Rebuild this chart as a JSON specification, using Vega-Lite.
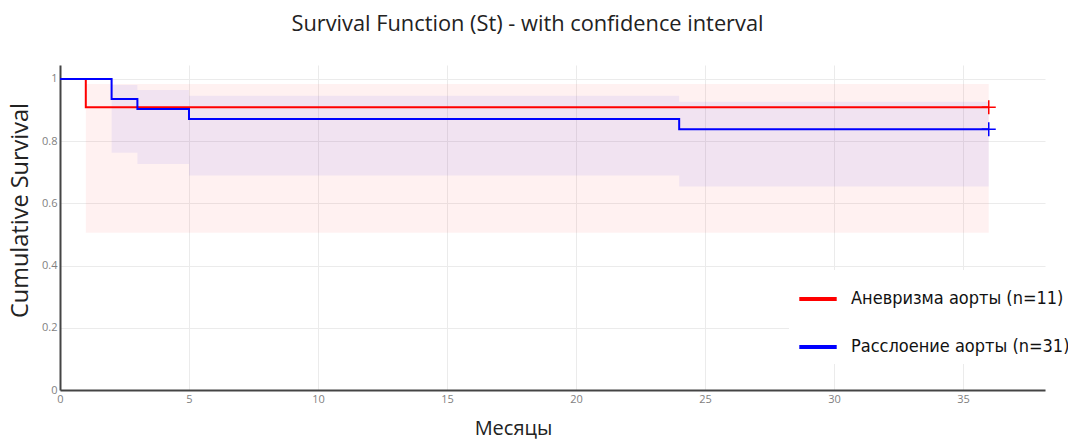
{
  "$schema": "https://vega.github.io/schema/vega-lite/v6.json",
  "autosize": {"type": "none"},
  "width": 985,
  "height": 325,
  "padding": {"left": 60, "top": 65, "right": 23, "bottom": 49},
  "background": "white",
  "title": {
    "text": "Survival Function (St) - with confidence interval",
    "font": "Open Sans",
    "fontSize": 21.8,
    "fontWeight": "normal",
    "color": "#222222",
    "anchor": "middle",
    "frame": "group",
    "dx": -25,
    "offset": 29
  },
  "config": {
    "view": {"stroke": null},
    "axis": {
      "labelFont": "Open Sans",
      "labelFontSize": 11,
      "labelColor": "#7f7f7f",
      "titleFont": "Open Sans",
      "titleFontWeight": "normal",
      "titleColor": "#222222",
      "gridColor": "#ebebeb",
      "gridWidth": 1,
      "ticks": false,
      "domainColor": "#444444",
      "domainWidth": 2
    }
  },
  "datasets": {
    "km": [
      {"series": "Аневризма аорты (n=11)", "month": 0, "surv": 1},
      {"series": "Аневризма аорты (n=11)", "month": 1, "surv": 0.9091},
      {"series": "Аневризма аорты (n=11)", "month": 36, "surv": 0.9091},
      {"series": "Расслоение аорты (n=31)", "month": 0, "surv": 1},
      {"series": "Расслоение аорты (n=31)", "month": 2, "surv": 0.9355},
      {"series": "Расслоение аорты (n=31)", "month": 3, "surv": 0.9032},
      {"series": "Расслоение аорты (n=31)", "month": 5, "surv": 0.871},
      {"series": "Расслоение аорты (n=31)", "month": 24, "surv": 0.8387},
      {"series": "Расслоение аорты (n=31)", "month": 36, "surv": 0.8387}
    ],
    "ci": [
      {"series": "Аневризма аорты (n=11)", "month": 1, "lower": 0.506, "upper": 0.984},
      {"series": "Аневризма аорты (n=11)", "month": 36, "lower": 0.506, "upper": 0.984},
      {"series": "Расслоение аорты (n=31)", "month": 2, "lower": 0.763, "upper": 0.981},
      {"series": "Расслоение аорты (n=31)", "month": 3, "lower": 0.727, "upper": 0.965},
      {"series": "Расслоение аорты (n=31)", "month": 5, "lower": 0.69, "upper": 0.946},
      {"series": "Расслоение аорты (n=31)", "month": 24, "lower": 0.654, "upper": 0.927},
      {"series": "Расслоение аорты (n=31)", "month": 36, "lower": 0.654, "upper": 0.927}
    ],
    "censored": [
      {"series": "Аневризма аорты (n=11)", "month": 36, "surv": 0.9091},
      {"series": "Расслоение аорты (n=31)", "month": 36, "surv": 0.8387}
    ]
  },
  "encoding": {
    "x": {
      "field": "month",
      "type": "quantitative",
      "scale": {"domain": [0, 38.18], "nice": false, "zero": false},
      "axis": {
        "title": "Месяцы",
        "titleFontSize": 20,
        "titleX": 453,
        "titleY": 38,
        "titleBaseline": "middle",
        "titleAlign": "center",
        "values": [0, 5, 10, 15, 20, 25, 30, 35],
        "labelPadding": 3,
        "labelFlush": false
      }
    },
    "y": {
      "type": "quantitative",
      "scale": {"domain": [0, 1.045], "nice": false},
      "axis": {
        "title": "Cumulative Survival",
        "titleFontSize": 23.5,
        "titleX": -40,
        "titleY": 145,
        "titleAngle": -90,
        "titleBaseline": "middle",
        "titleAlign": "center",
        "values": [0, 0.2, 0.4, 0.6, 0.8, 1],
        "format": "~g",
        "labelPadding": 3
      }
    }
  },
  "layer": [
    {
      "data": {"name": "ci"},
      "mark": {"type": "area", "interpolate": "step-after", "opacity": 0.055},
      "encoding": {
        "y": {"field": "upper"},
        "y2": {"field": "lower"},
        "color": {
          "field": "series",
          "type": "nominal",
          "scale": {
            "domain": ["Аневризма аорты (n=11)", "Расслоение аорты (n=31)"],
            "range": ["#ff0000", "#0000ff"]
          },
          "legend": {
            "title": null,
            "orient": "none",
            "legendX": 729,
            "legendY": 205,
            "fillColor": "white",
            "padding": 8,
            "symbolType": "stroke",
            "symbolSize": 1400,
            "symbolStrokeWidth": 4,
            "symbolOpacity": 1,
            "rowPadding": 18,
            "labelFont": "DejaVu Sans Condensed",
            "labelFontSize": 18,
            "labelColor": "#111111",
            "labelOffset": 12,
            "labelLimit": 400
          }
        }
      }
    },
    {
      "data": {"name": "km"},
      "mark": {"type": "line", "interpolate": "step-after", "strokeWidth": 2},
      "encoding": {
        "y": {"field": "surv"},
        "color": {"field": "series", "type": "nominal"}
      }
    },
    {
      "data": {"name": "censored"},
      "mark": {
        "type": "point",
        "shape": "M-1,0H1M0,-1V1",
        "filled": false,
        "size": 196,
        "strokeWidth": 1.5,
        "opacity": 1
      },
      "encoding": {
        "y": {"field": "surv"},
        "color": {"field": "series", "type": "nominal"}
      }
    }
  ]
}
